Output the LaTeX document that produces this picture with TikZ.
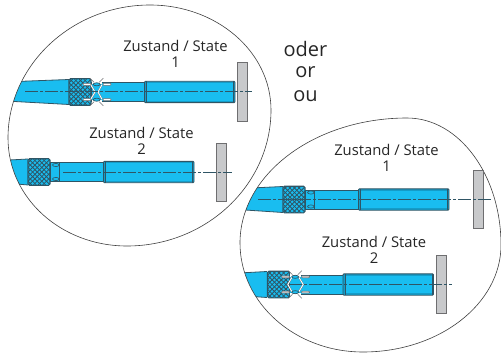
\documentclass[tikz,border=0pt]{standalone}
\usepackage{fontspec}
\setmainfont{Open Sans}
\definecolor{toolblue}{HTML}{19BDF0}
\definecolor{tooldark}{HTML}{2F5565}
\definecolor{bandblue}{HTML}{149CC8}
\definecolor{plategray}{HTML}{C8C9CB}
\definecolor{edgegray}{HTML}{6E6E70}
\tikzset{
  outline/.style={draw=black!75,line width=0.6pt},
  plate/.style={fill=plategray,draw=edgegray,line width=1pt},
  axisbase/.style={draw=tooldark,dash pattern=on 13pt off 2pt on 3pt off 2pt},
  axisheavy/.style={axisbase,line width=1pt},
  axislight/.style={axisbase,line width=0.65pt},
  label/.style={font=\fontsize{14.8}{16}\selectfont,text=black!85,inner sep=0pt},
  bigword/.style={font=\fontsize{20}{22}\selectfont,text=black!85,inner sep=0pt},
  edge/.style={tooldark,line width=0.8pt},
}
\def\leftblob{(8,138) .. controls (8,65) and (72,5) .. (150,5) .. controls (217,5) and (271,52) .. (271,110) .. controls (271,185) and (206,246) .. (127,246) .. controls (61,246) and (8,198) .. (8,138) -- cycle}
\def\rightblob{(240,243) .. controls (240,174) and (315,118) .. (407,118) .. controls (459,118) and (501,175) .. (501,245) .. controls (501,304) and (439,352) .. (363,352) .. controls (295,352) and (240,303) .. (240,243) -- cycle}
% #1 knurl left x, #2 axis y
\newcommand{\toolparts}[2]{%
  \begin{scope}[shift={(#1,#2)}]
    \draw[fill=toolblue,draw=tooldark,line width=0.9pt] (22,-9.5) rectangle (76,9.5);
    \draw[draw=tooldark,line width=0.9pt,rounded corners=1pt,fill=bandblue] (75.5,-10.7) rectangle (166,10.7);
    \fill[toolblue] (77,-8.6) rectangle (165,8.6);
    \draw[tooldark,line width=0.7pt] (77.5,-10.7) -- (77.5,10.7) (164.5,-10.7) -- (164.5,10.7);
    \begin{scope}
      \path[clip,rounded corners=1.5pt] (0,-13.3) rectangle (22,13.3);
      \fill[toolblue] (0,-14) rectangle (22,14);
      \foreach \k in {-27.6,-23,...,28}{
        \draw[tooldark,line width=0.8pt] (\k-15,-15) -- (\k+15,15);
        \draw[tooldark,line width=0.8pt] (\k+15,-15) -- (\k-15,15);
      }
    \end{scope}
    \draw[draw=tooldark,line width=1.1pt,rounded corners=1.5pt] (0,-13.3) rectangle (22,13.3);
  \end{scope}}
% #1 knurl left x, #2 axis y : groove with small ovals
\newcommand{\grooves}[2]{%
  \begin{scope}[shift={(#1,#2)}]
    \draw[tooldark,line width=0.6pt] (31.5,-9.5) -- (31.5,9.5);
    \draw[tooldark,line width=0.6pt,fill=toolblue] (27.8,-7) ellipse (3.3 and 1.6) (27.8,7) ellipse (3.3 and 1.6);
  \end{scope}}
% #1 knurl left x, #2 axis y, #3 chevron inner x left, #4 chevron outer x left, #5 inner right, #6 outer right, #7 pill fill
\newcommand{\released}[7]{%
  \begin{scope}[shift={(#1,#2)}]
    \fill[white] (22.6,-10.5) rectangle (33,10.5);
    \fill[toolblue] (22.6,-8) rectangle (33,8);
    \draw[edgegray,line width=0.6pt] (21,-13.8) -- (25,-9.8) (34.3,-13.8) -- (30.3,-9.8) (21,13.8) -- (25,9.8) (34.3,13.8) -- (30.3,9.8);
    \draw[edgegray,line width=1.5pt] (#3,-7.3) -- (#4,0) -- (#3,7.3) (#5,-7.3) -- (#6,0) -- (#5,7.3);
    \draw[white,line width=0.9pt] (#3,-7.3) -- (#4,0) -- (#3,7.3) (#5,-7.3) -- (#6,0) -- (#5,7.3);
    \draw[tooldark,line width=0.7pt,fill=toolblue] (27.7,-7.7) ellipse (3.5 and 1.5) (27.7,7.7) ellipse (3.5 and 1.5);
    \draw[draw=edgegray,fill=#7,line width=0.5pt,rounded corners=0.8pt] (14,-8.7) rectangle (22,-6.7) (14,6.7) rectangle (22,8.7) (34,-8.7) rectangle (42,-6.7) (34,6.7) rectangle (42,8.7);
  \end{scope}}
\begin{document}
\begin{tikzpicture}[x=1pt,y=-1pt]
\useasboundingbox (0,0) rectangle (501,353);
% left outline and wedges
\begin{scope}
  \clip \leftblob;
  \fill[toolblue] (0,82.1) -- (69,79.5) -- (69,104.5) -- (0,100.7) -- cycle;
  \draw[edge] (0,82.1) -- (69,79.5) (0,100.7) -- (69,104.5);
  \fill[toolblue] (0,160.5) -- (28,159) -- (28,185) -- (0,182.5) -- cycle;
  \draw[edge] (0,160.5) -- (28,159) (0,182.5) -- (28,185);
\end{scope}
\draw[outline] \leftblob;
% right outline and wedges
\begin{scope}
  \clip \rightblob;
  \fill[toolblue] (230,189) -- (283,186.5) -- (283,212.5) -- (230,209) -- cycle;
  \draw[edge] (230,189) -- (283,186.5) (230,209) -- (283,212.5);
  \fill[toolblue] (230,273.5) -- (267,271.5) -- (267,297.5) -- (230,295) -- cycle;
  \draw[edge] (230,273.5) -- (267,271.5) (230,295) -- (267,297.5);
\end{scope}
\draw[outline] \rightblob;
% tool bodies
\toolparts{69}{92}
\toolparts{28}{172}
\toolparts{283}{199.5}
\toolparts{267.5}{284.5}
\grooves{28}{172}
\grooves{283}{199.5}
\released{69}{92}{21.7}{26}{33}{29}{white}
\released{267.5}{284.5}{24.5}{20.3}{31.3}{35.7}{plategray}
% plates
\draw[plate] (237.5,63) rectangle (247.5,121);
\draw[plate] (216.5,143) rectangle (226.5,201);
\draw[plate] (473.5,170.5) rectangle (483.5,228.5);
\draw[plate] (436.5,255.5) rectangle (446.5,313.5);
% axes
\coordinate (a1s) at (25,92); \coordinate (a1e) at (252,92);
\coordinate (a2s) at (63,172); \coordinate (a2e) at (232,172);
\coordinate (a3s) at (258,199.5); \coordinate (a3e) at (492,199.5);
\coordinate (a4s) at (289,284.5); \coordinate (a4e) at (452,284.5);
\draw[axisheavy] (a1s) -- (a1e);
\draw[axisheavy] (a2s) -- (a2e);
\draw[axislight] (a3s) -- (a3e);
\draw[axislight] (a4s) -- (a4e);
% labels
\node[label] (t1) at (175.5,46) {Zustand / State};
\node[label] (n1) at (175.5,62) {1};
\node[label] (t2) at (141.5,133) {Zustand / State};
\node[label] (n2) at (141.5,149) {2};
\node[label] (t3) at (386.5,150) {Zustand / State};
\node[label] (n3) at (386.5,166.5) {1};
\node[label] (t4) at (374,242) {Zustand / State};
\node[label] (n4) at (374,258) {2};
\node[bigword] (w1) at (305.5,49) {oder};
\node[bigword] (w2) at (305.5,72.5) {or};
\node[bigword] (w3) at (305.5,96) {ou};
\end{tikzpicture}
\end{document}
